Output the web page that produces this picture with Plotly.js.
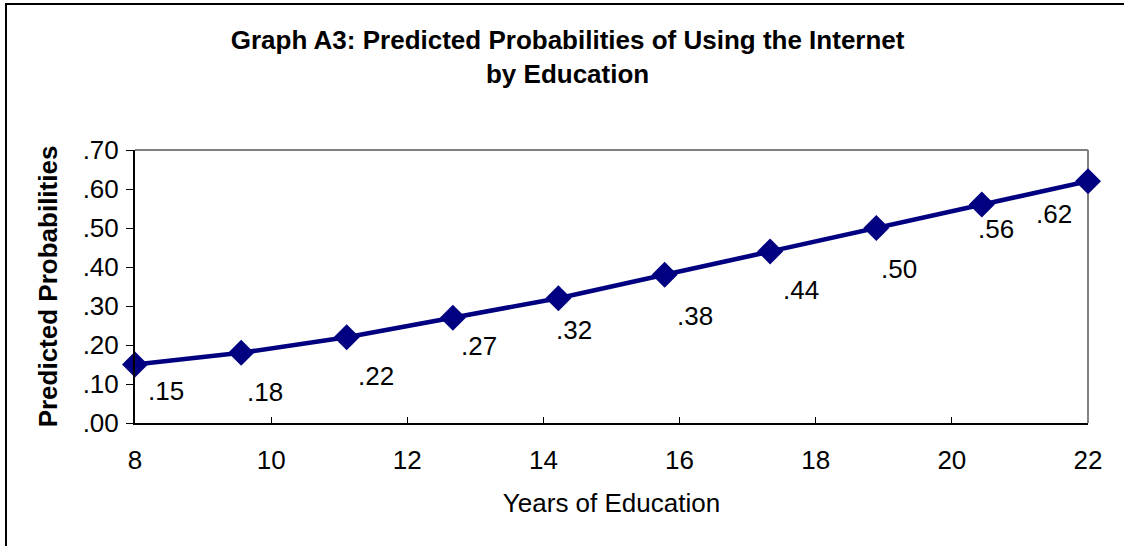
<!DOCTYPE html>
<html>
<head>
<meta charset="utf-8">
<script src="https://cdn.plot.ly/plotly-3.0.1.min.js"></script>
<style>
  html, body { margin: 0; padding: 0; background: #fff; }
  #wrap { position: relative; width: 1124px; height: 546px; overflow: hidden; }
  #chart { width: 1124px; height: 546px; }
  #frame { position: absolute; left: 5px; top: 3px; width: 1200px; height: 700px;
           border-left: 2px solid #000; border-top: 2px solid #000; pointer-events: none; }
</style>
</head>
<body>
<div id="wrap">
  <div id="chart"></div>
  <div id="frame"></div>
</div>
<script>
// Years of education at each estimated point
const years = [8, 9.56, 11.11, 12.67, 14.22, 15.78, 17.33, 18.89, 20.44, 22];
// Predicted probability of using the Internet
const probabilities = [0.15, 0.18, 0.22, 0.27, 0.32, 0.38, 0.44, 0.50, 0.56, 0.62];
// Axis ticks
const xTicks = [8, 10, 12, 14, 16, 18, 20, 22];
const yTickVals = [0, 0.1, 0.2, 0.3, 0.4, 0.5, 0.6, 0.7];
const yTickText = ['.00', '.10', '.20', '.30', '.40', '.50', '.60', '.70'];

// Pixel offsets of each value label from its marker (right, down)
const labelDx = [31, 24, 29, 26, 16, 30, 31, 23, 14, -34];
const labelDy = [26, 39, 39, 28, 32, 41, 39, 41, 24, 33];

const FONT = 'Liberation Sans, Arial, sans-serif';
const NAVY = '#000080';

const fmt = v => '.' + Math.round(v * 100).toString().padStart(2, '0');

const trace = {
  type: 'scatter',
  mode: 'lines+markers',
  x: years,
  y: probabilities,
  line: { color: NAVY, width: 4.5 },
  marker: { symbol: 'diamond', size: 20, color: NAVY },
  cliponaxis: false,
  hoverinfo: 'x+y'
};

const annotations = years.map((x, i) => ({
  x: x, y: probabilities[i], xref: 'x', yref: 'y',
  text: fmt(probabilities[i]), showarrow: false,
  xshift: labelDx[i], yshift: -labelDy[i],
  font: { family: FONT, size: 26, color: '#000' }
}));

const layout = {
  width: 1124, height: 546,
  margin: { l: 135, r: 36, t: 150, b: 123 },
  paper_bgcolor: '#fff', plot_bgcolor: '#fff',
  showlegend: false,
  font: { family: FONT, size: 26, color: '#000' },
  title: {
    text: 'Graph A3: Predicted Probabilities of Using the Internet<br>by Education',
    font: { family: FONT, size: 26, weight: 'bold', color: '#000' },
    x: 0.505, xref: 'container', xanchor: 'center',
    y: 1 - 49 / 546, yref: 'container', yanchor: 'middle'
  },
  xaxis: {
    range: [8, 22], tickvals: xTicks, ticktext: xTicks.map(String),
    showgrid: false, zeroline: false,
    showline: true, linecolor: '#000', linewidth: 2,
    ticks: 'inside', ticklen: 6, tickcolor: '#000', tickwidth: 1,
    ticklabelstandoff: 13,
    tickfont: { family: FONT, size: 26, color: '#000' },
    title: { text: 'Years of Education', font: { family: FONT, size: 26, color: '#000' }, standoff: 20 }
  },
  yaxis: {
    range: [0, 0.7], tickvals: yTickVals, ticktext: yTickText,
    showgrid: false, zeroline: false,
    showline: true, linecolor: '#000', linewidth: 2,
    ticks: 'outside', ticklen: 7, tickcolor: '#000', tickwidth: 1,
    ticklabelstandoff: 2,
    tickfont: { family: FONT, size: 26, color: '#000' },
    title: { text: 'Predicted Probabilities', font: { family: FONT, size: 26, weight: 'bold', color: '#000' }, standoff: 18 }
  },
  shapes: [
    { type: 'line', xref: 'paper', yref: 'paper', x0: 0, x1: 1, y0: 1, y1: 1,
      line: { color: '#808080', width: 2 }, layer: 'below' },
    { type: 'line', xref: 'paper', yref: 'paper', x0: 1, x1: 1, y0: 0, y1: 1,
      line: { color: '#808080', width: 2 }, layer: 'below' }
  ],
  annotations: annotations
};

Plotly.newPlot('chart', [trace], layout, { displayModeBar: false, staticPlot: true });
</script>
</body>
</html>
